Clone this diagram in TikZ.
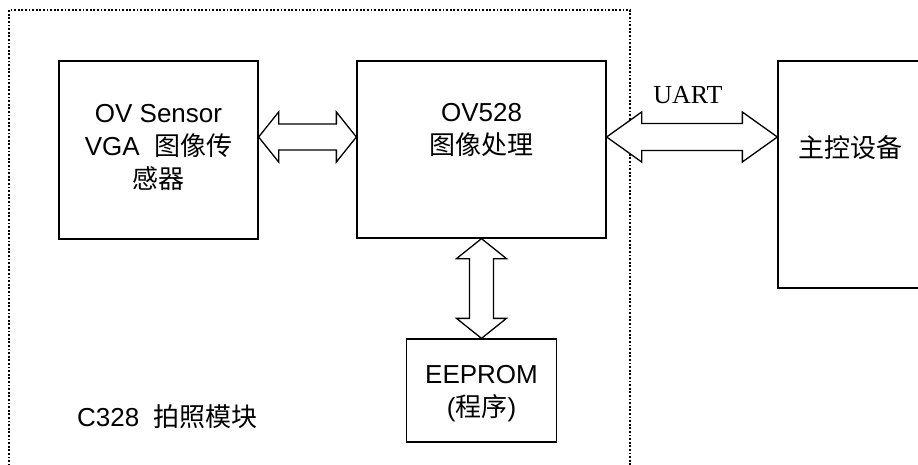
\documentclass[tikz,border=0pt]{standalone}
\usepackage{fontspec}
\setmainfont{Liberation Sans}
\newfontfamily\cjk{Noto Sans CJK SC}
\newfontfamily\uartfont{Liberation Serif}
\usetikzlibrary{calc}
\begin{document}
\begin{tikzpicture}[x=1pt,y=-1pt,
  box/.style={draw, line width=1.3pt, inner sep=0pt},
  txt/.style={font=\fontsize{26}{33}\selectfont, align=center, inner sep=0pt},
  arr/.style={draw, line width=1.3pt, fill=white, line join=miter},
  frame/.style={draw, line width=2pt, dash pattern=on 1.8pt off 1.8pt}]
\useasboundingbox (0,0) rectangle (918,465);
% module frame
\draw[frame] (9,480) -- (9,10) -- (630,10) -- (630,480);
% boxes
\node[box, minimum width=199pt, minimum height=178pt] (s) at (158.5,150) {};
\node[box, minimum width=249pt, minimum height=177pt] (p) at (481.5,149.5) {};
\node[box, minimum width=144pt, minimum height=227pt] (h) at (850,174.5) {};
\node[box, minimum width=150pt, minimum height=103pt] (e) at (481.5,390.5) {};
% texts
\node[txt] (st) at ($(s.center)+(0,-3)$) {OV Sensor\\VGA\ \ {\cjk 图像传}\\{\cjk 感器}};
\node[txt] (pt) at ($(p.center)+(0,-20)$) {OV528\\{\cjk 图像处理}};
\node[txt] (ht) at ($(h.center)+(0,-27)$) {\cjk 主控设备};
\node[txt] (et) at ($(e.center)+(0,3)$) {EEPROM\\({\cjk 程序})};
\node[txt, anchor=west] (ct) at (77,417) {C328\ \ {\cjk 拍照模块}};
\node[txt, font=\uartfont\fontsize{26}{30}\selectfont] (uart) at (688,95) {UART};
% arrow level
\coordinate (ay) at (0,137);
% sensor <-> OV528
\draw[arr] let \p1=(s.east), \p2=(p.west), \p3=(ay) in
  (\x1,\y3) -- (\x1+20pt,\y3+25pt) -- (\x1+20pt,\y3+13pt) -- (\x2-20pt,\y3+13pt)
  -- (\x2-20pt,\y3+25pt) -- (\x2,\y3) -- (\x2-20pt,\y3-25pt) -- (\x2-20pt,\y3-13pt)
  -- (\x1+20pt,\y3-13pt) -- (\x1+20pt,\y3-25pt) -- cycle;
% OV528 <-> host (UART)
\draw[arr] let \p1=(p.east), \p2=(h.west), \p3=(ay) in
  (\x1,\y3) -- (\x1+35pt,\y3+25pt) -- (\x1+35pt,\y3+13.5pt) -- (\x2-35pt,\y3+13.5pt)
  -- (\x2-35pt,\y3+25pt) -- (\x2,\y3) -- (\x2-35pt,\y3-25pt) -- (\x2-35pt,\y3-13.5pt)
  -- (\x1+35pt,\y3-13.5pt) -- (\x1+35pt,\y3-25pt) -- cycle;
% OV528 <-> EEPROM
\draw[arr] let \p1=(p.south), \p2=(e.north) in
  (\x2,\y1) -- (\x2+25pt,\y1-20pt) -- (\x2+12pt,\y1-20pt) -- (\x2+12pt,\y2+20pt)
  -- (\x2+25pt,\y2+20pt) -- (\x2,\y2) -- (\x2-25pt,\y2+20pt) -- (\x2-12pt,\y2+20pt)
  -- (\x2-12pt,\y1-20pt) -- (\x2-25pt,\y1-20pt) -- cycle;
\end{tikzpicture}
\end{document}
